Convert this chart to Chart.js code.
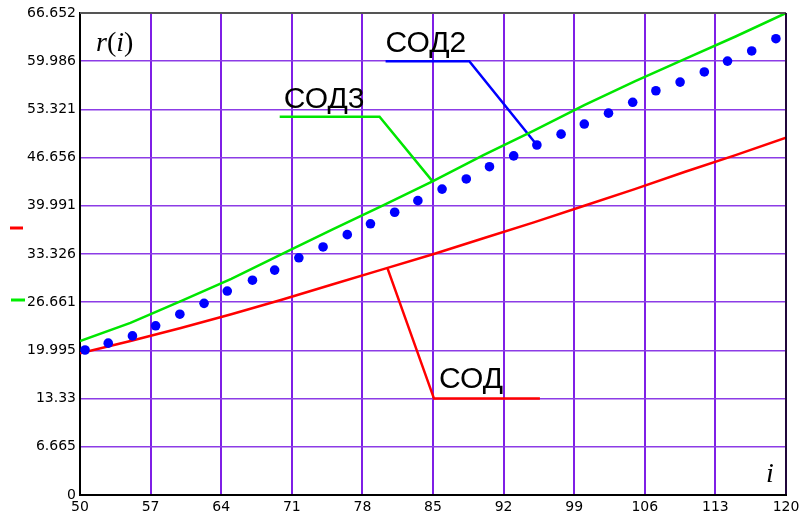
<!DOCTYPE html>
<html>
<head>
<meta charset="utf-8">
<script src="https://cdn.jsdelivr.net/npm/chart.js@4"></script>
<style>
  body { margin: 0; background: #fff; }
  canvas { display: block; }
</style>
</head>
<body>
<canvas id="chart" width="806" height="517"></canvas>
<script>
// axis ticks
const xTicks = [50, 57, 64, 71, 78, 85, 92, 99, 106, 113, 120];
const yTicks = [0, 6.6652, 13.3304, 19.9956, 26.6608, 33.326, 39.9912, 46.6564, 53.3216, 59.9868, 66.652];
const yTickLabels = ['0', '6.665', '13.33', '19.995', '26.661', '33.326', '39.991', '46.656', '53.321', '59.986', '66.652'];

// СОД (red line)
const sodI = [50, 55, 60, 65, 70, 75, 80, 85, 90, 95, 100, 105, 110, 115, 120];
const sodR = [19.6, 21.3, 23.1, 25.0, 27.0, 29.1, 31.2, 33.3, 35.5, 37.7, 40.0, 42.3, 44.7, 47.0, 49.4];

// СОД3 (green line)
const sod3I = [50, 55, 60, 65, 70, 75, 80, 85, 90, 95, 100, 105, 110, 115, 120];
const sod3R = [21.3, 23.8, 26.8, 29.9, 33.3, 36.7, 40.0, 43.4, 47.0, 50.4, 53.9, 57.2, 60.3, 63.4, 66.65];

// СОД2 (blue dots)
const sod2I = [50.5, 52.8, 55.2, 57.5, 59.9, 62.3, 64.6, 67.1, 69.3, 71.7, 74.1, 76.5, 78.8, 81.2, 83.5,
               85.9, 88.3, 90.6, 93.0, 95.3, 97.7, 100.0, 102.4, 104.8, 107.1, 109.5, 111.9, 114.2, 116.6, 119.0];
const sod2R = [20.05, 21.0, 22.0, 23.4, 25.0, 26.5, 28.2, 29.7, 31.1, 32.8, 34.3, 36.0, 37.5, 39.1, 40.7,
               42.3, 43.7, 45.4, 46.9, 48.4, 49.9, 51.3, 52.8, 54.3, 55.9, 57.1, 58.5, 60.0, 61.4, 63.1];

// label leader lines, in data units
const leaderSod = [[80.5, 31.3], [85.1, 13.33], [95.6, 13.33]];
const leaderSod2 = [[80.3, 59.986], [88.6, 59.986], [95.3, 48.4]];
const leaderSod3 = [[69.8, 52.3], [79.7, 52.3], [85.0, 43.3]];

const toXY = (xs, ys) => xs.map((x, k) => ({ x: x, y: ys[k] }));
const toPts = arr => arr.map(p => ({ x: p[0], y: p[1] }));

const lineStyle = { pointRadius: 0, borderWidth: 2.5, tension: 0, fill: false };

const extras = {
  id: 'extras',
  afterDraw(chart) {
    const c = chart.ctx;
    const a = chart.chartArea;
    const sx = chart.scales.x, sy = chart.scales.y;
    c.save();
    // top and right frame
    c.strokeStyle = '#555';
    c.lineWidth = 2;
    c.beginPath(); c.moveTo(a.left, a.top); c.lineTo(a.right, a.top); c.stroke();
    c.strokeStyle = '#000';
    c.lineWidth = 1.5;
    c.beginPath(); c.moveTo(a.right, a.top); c.lineTo(a.right, a.bottom); c.stroke();

    // curve labels
    c.fillStyle = '#000';
    c.font = '30px "Liberation Sans", Arial, sans-serif';
    c.textBaseline = 'alphabetic';
    c.fillText('СОД2', sx.getPixelForValue(80.3), sy.getPixelForValue(61.2));
    c.fillText('СОД3', sx.getPixelForValue(70.2), sy.getPixelForValue(53.5));
    c.fillText('СОД', sx.getPixelForValue(85.6), sy.getPixelForValue(14.8));

    // axis names
    let x = a.left + 16, y = a.top + 38;
    const parts = [['r', 'italic '], ['(', ''], ['i', 'italic '], [')', '']];
    parts.forEach(p => {
      c.font = p[1] + '28px "Liberation Serif", "Times New Roman", serif';
      c.fillText(p[0], x, y);
      x += c.measureText(p[0]).width;
    });
    c.font = 'italic 28px "Liberation Serif", "Times New Roman", serif';
    c.fillText('i', a.right - 20, a.bottom - 13);

    // trace markers at the left
    c.lineWidth = 3;
    c.strokeStyle = '#ff0000';
    c.beginPath(); c.moveTo(10, 228); c.lineTo(23, 228); c.stroke();
    c.strokeStyle = '#00ee00';
    c.beginPath(); c.moveTo(11, 300); c.lineTo(25, 300); c.stroke();
    c.restore();
  }
};

new Chart(document.getElementById('chart').getContext('2d'), {
  type: 'line',
  data: {
    datasets: [
      { label: 'СОД2', type: 'scatter', data: toXY(sod2I, sod2R), showLine: false,
        pointRadius: 4.8, pointBackgroundColor: '#0000ff', pointBorderWidth: 0 },
      { label: 'СОД3', data: toXY(sod3I, sod3R), borderColor: '#00e600', ...lineStyle },
      { label: 'СОД', data: toXY(sodI, sodR), borderColor: '#ff0000', ...lineStyle },
      { label: 'l1', data: toPts(leaderSod), borderColor: '#ff0000', ...lineStyle },
      { label: 'l2', data: toPts(leaderSod2), borderColor: '#0000ff', ...lineStyle },
      { label: 'l3', data: toPts(leaderSod3), borderColor: '#00e600', ...lineStyle }
    ]
  },
  options: {
    responsive: false,
    animation: false,
    layout: { padding: { left: 0, right: 20, top: 13, bottom: 0 } },
    plugins: { legend: { display: false }, tooltip: { enabled: false } },
    scales: {
      x: {
        type: 'linear', min: 50, max: 120,
        afterBuildTicks: s => { s.ticks = xTicks.map(v => ({ value: v })); },
        afterFit: s => { s.height = 22; },
        ticks: { color: '#000', padding: 4, maxRotation: 0, autoSkip: false,
                 font: { family: '"DejaVu Sans", sans-serif', size: 14 } },
        grid: { color: '#7f1fe6', lineWidth: 2, drawTicks: false },
        border: { color: '#000', width: 2 }
      },
      y: {
        type: 'linear', min: 0, max: 66.652,
        afterBuildTicks: s => { s.ticks = yTicks.map(v => ({ value: v })); },
        afterFit: s => { s.width = 80; },
        ticks: { color: '#000', padding: 4, autoSkip: false,
                 callback: (v, i) => yTickLabels[i],
                 font: { family: '"DejaVu Sans", sans-serif', size: 14 } },
        grid: { color: '#8c3ce6', lineWidth: 1.5, drawTicks: false },
        border: { color: '#000', width: 2 }
      }
    }
  },
  plugins: [extras]
});
</script>
</body>
</html>
